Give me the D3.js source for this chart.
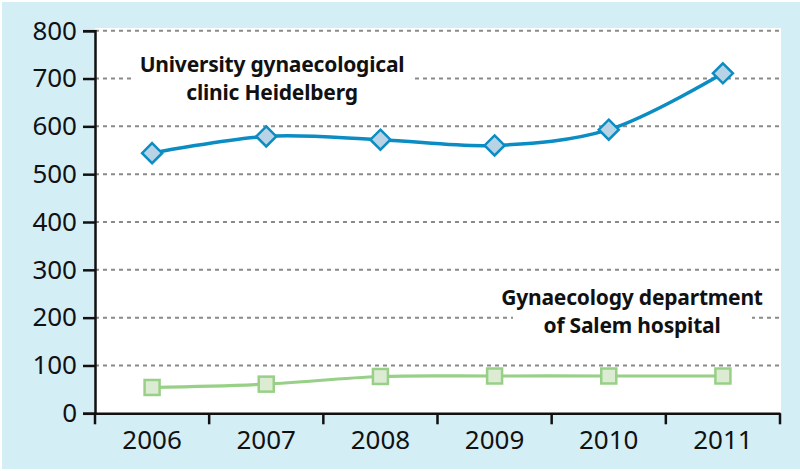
<!DOCTYPE html>
<html><head><meta charset="utf-8">
<script src="https://cdn.jsdelivr.net/npm/d3@7"></script>
<style>body{margin:0;background:#fff}svg{display:block}</style>
</head><body>
<svg id="c" width="800" height="471"></svg>
<script>
const years = ["2006","2007","2008","2009","2010","2011"];
const heidelberg = [544, 579, 572, 560, 593, 711];
const salem = [54, 61, 77, 78, 78, 78];
const yTicks = [0,100,200,300,400,500,600,700,800];
const label1 = ["University gynaecological","clinic Heidelberg"];
const label2 = ["Gynaecology department","of Salem hospital"];

const svg = d3.select("#c");
const W = 800, H = 471;
const m = {l:95, r:20, t:28, b:58};
const plotR = 780;
svg.append("rect").attr("x",2).attr("y",2).attr("width",W-2).attr("height",H-4).attr("fill","#d4eef6");
svg.append("rect").attr("x",m.l).attr("y",m.t).attr("width",781-m.l).attr("height",413.3-m.t).attr("fill","#fff");

const x = d3.scaleBand().domain(years).range([m.l, plotR]);
const y = d3.scaleLinear().domain([0,800]).range([413.3, 30.7]);

// grid
svg.append("g").selectAll("line").data(yTicks.filter(d=>d>0)).join("line")
  .attr("x1",m.l).attr("x2",781).attr("y1",d=>y(d)).attr("y2",d=>y(d))
  .attr("stroke","#8a8a8a").attr("stroke-width",2).attr("stroke-dasharray","4,4");

// label boxes + labels
function label(lines, cx, y0, boxX0, boxX1, boxY0, boxY1){
  svg.append("rect").attr("x",boxX0).attr("y",boxY0).attr("width",boxX1-boxX0).attr("height",boxY1-boxY0).attr("fill","#fff");
  const t = svg.append("text").attr("text-anchor","middle")
    .attr("font-family","'Noto Sans', sans-serif").attr("font-weight","bold").attr("font-size",21).attr("fill","#111")
    .attr("letter-spacing",-0.2);
  lines.forEach((s,i)=>t.append("tspan").attr("x",cx).attr("y",y0+i*28).text(s));
}
label(label1, 272, 72, 133, 412, 60, 84);
label(label2, 632, 305, 513, 752, 308, 326);

const fontAxis = "'Noto Sans', sans-serif";
// y axis
const ya = svg.append("g").attr("transform",`translate(${m.l},0)`)
  .call(d3.axisLeft(y).tickValues(yTicks).tickSize(12).tickPadding(6));
ya.select(".domain").attr("stroke","#111").attr("stroke-width",2.5);
ya.selectAll(".tick line").attr("stroke","#111").attr("stroke-width",2.5);
ya.selectAll("text").attr("font-family",fontAxis).attr("font-size",26).attr("fill","#111");

// x axis
const xa = svg.append("g").attr("transform",`translate(0,413.3)`)
  .call(d3.axisBottom(x).tickSize(0).tickPadding(17));
xa.select(".domain").attr("stroke","#111").attr("stroke-width",2.5);
xa.selectAll("text").attr("font-family",fontAxis).attr("font-size",26).attr("fill","#111");
const edges = years.map(d=>x(d)).concat([x(years[years.length-1])+x.bandwidth()]);
xa.selectAll(".edge").data(edges).join("line").attr("class","edge")
  .attr("x1",d=>d).attr("x2",d=>d).attr("y1",0).attr("y2",11)
  .attr("stroke","#111").attr("stroke-width",2.5);

const cx = d => x(d)+x.bandwidth()/2;
const line = d3.line().x((d,i)=>cx(years[i])).y(d=>y(d)).curve(d3.curveCatmullRom.alpha(0.5));

// green
svg.append("path").attr("d",line(salem)).attr("fill","none").attr("stroke","#97d086").attr("stroke-width",3.2);
svg.append("g").selectAll("rect").data(salem).join("rect")
  .attr("x",(d,i)=>cx(years[i])-7.5).attr("y",d=>y(d)-7.5).attr("width",15).attr("height",15)
  .attr("fill","#dcecd2").attr("stroke","#97d086").attr("stroke-width",2.5);

// blue
svg.append("path").attr("d",line(heidelberg)).attr("fill","none").attr("stroke","#0b8cc2").attr("stroke-width",3.5);
svg.append("g").selectAll("path.d").data(heidelberg).join("path").attr("class","d")
  .attr("transform",(d,i)=>`translate(${cx(years[i])},${y(d)})`)
  .attr("d","M0,-10L10,0L0,10L-10,0Z")
  .attr("fill","#b9d3e6").attr("stroke","#0b8cc2").attr("stroke-width",2.5);
</script>
</body></html>
